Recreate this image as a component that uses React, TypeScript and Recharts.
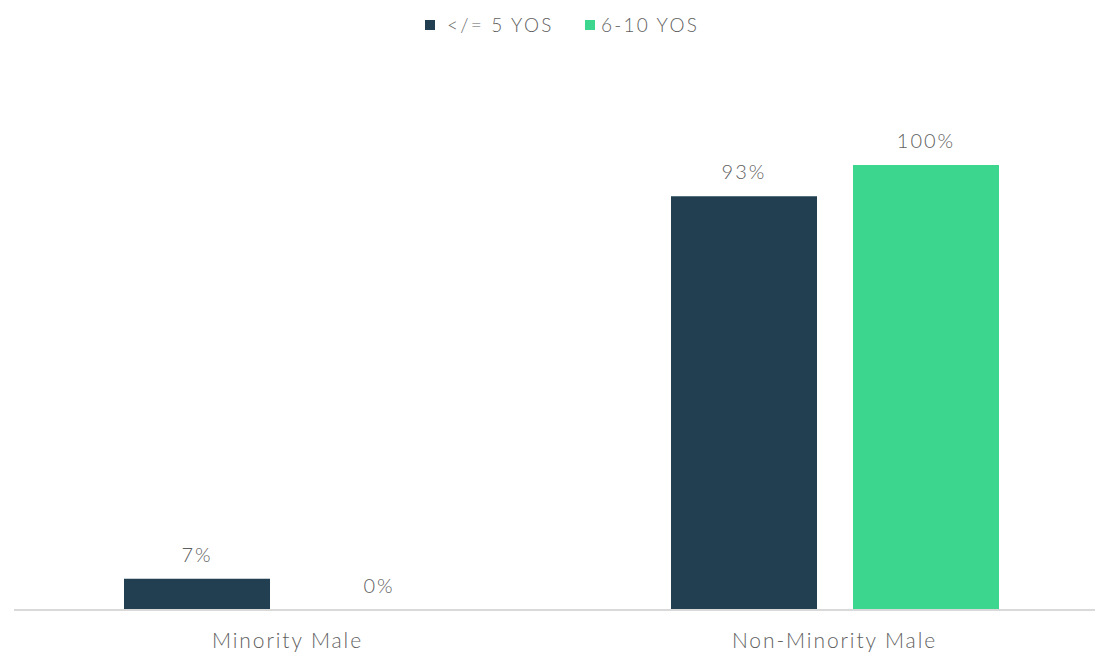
import { BarChart, Bar, XAxis, YAxis } from "recharts";

const CATEGORIES = ["Minority Male", "Non-Minority Male"];
const YOS_0_5 = [7, 93];
const YOS_6_10 = [0, 100];

const SERIES_NAMES = ["</= 5 YOS", "6-10 YOS"];
const COLORS = ["#213f50", "#3dd68f"];

const data = CATEGORIES.map((name, i) => ({
  name,
  a: YOS_0_5[i],
  b: YOS_6_10[i],
}));

const FONT = "Lato, 'Open Sans', sans-serif";
const TEXT = "#5f5f5f";

const tickStyle = { fontSize: 21, fill: TEXT, fontFamily: FONT, fontWeight: 300, letterSpacing: 1.9 };

// draws the value above the bar
const renderValue = (props: any) => {
  const { x, y, width, value } = props;
  return (
    <text
      x={Number(x) + Number(width) / 2}
      y={Number(y) - 17}
      textAnchor="middle"
      fontSize={20}
      fontFamily={FONT}
      fontWeight={300}
      letterSpacing={2}
      fill={TEXT}
    >
      {`${value}%`}
    </text>
  );
};

export default function App() {
  return (
    <div
      style={{
        position: "absolute",
        left: 0,
        top: 0,
        width: 1095,
        height: 656,
        overflow: "hidden",
        background: "#fff",
        fontFamily: FONT,
      }}
    >
      {SERIES_NAMES.map((s, i) => (
        <div
          key={s}
          style={{
            position: "absolute",
            top: 13,
            left: i === 0 ? 425 : 585,
            display: "flex",
            alignItems: "center",
            fontSize: 19,
            fontWeight: 300,
            letterSpacing: 2.2,
            color: TEXT,
            whiteSpace: "nowrap",
            lineHeight: "24px",
          }}
        >
          <span style={{ width: 10, height: 10, background: COLORS[i], display: "inline-block", marginRight: i === 0 ? 12 : 6 }} />
          <span>{s}</span>
        </div>
      ))}
      <BarChart
        width={1120}
        height={656}
        data={data}
        margin={{ top: 165, right: 12, bottom: 16, left: 14 }}
        barGap={36}
        barSize={146}
      >
        <XAxis
          dataKey="name"
          axisLine={{ stroke: "#d9d9d9", strokeWidth: 2 }}
          tickLine={false}
          tickSize={0}
          tickMargin={23}
          tick={tickStyle}
        />
        <YAxis hide domain={[0, 100]} />
        <Bar dataKey="a" fill={COLORS[0]} isAnimationActive={false} label={renderValue} minPointSize={0.01} />
        <Bar dataKey="b" fill={COLORS[1]} isAnimationActive={false} label={renderValue} minPointSize={0.01} />
      </BarChart>
    </div>
  );
}
